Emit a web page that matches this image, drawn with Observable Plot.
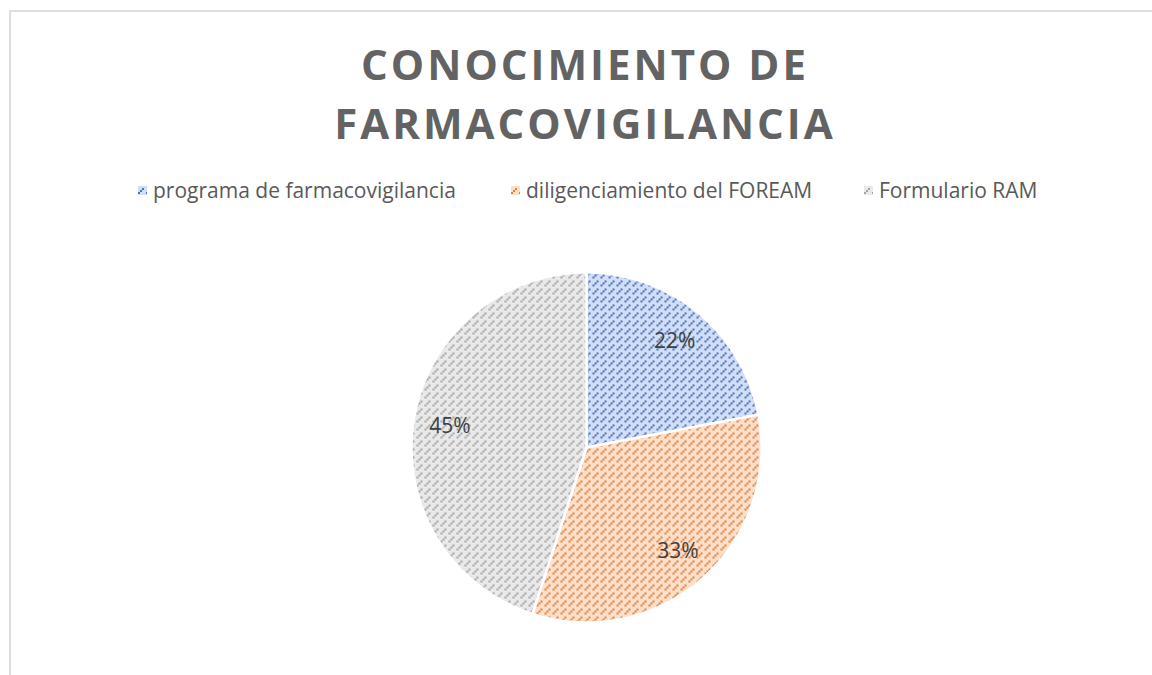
<!DOCTYPE html>
<html><head><meta charset="utf-8">
<script src="https://cdn.jsdelivr.net/npm/d3@7"></script>
<script src="https://cdn.jsdelivr.net/npm/@observablehq/plot@0.6"></script>
<style>
body{margin:0;background:#fff;overflow:hidden}
#wrap{position:relative;width:1152px;height:675px;overflow:hidden;font-family:"Open Sans",sans-serif}
#frame{position:absolute;left:9px;top:10px;width:1300px;height:800px;border:2px solid #dedede}
#title{position:absolute;left:0;width:1164px;top:34px;text-align:center;font-weight:700;font-size:42px;line-height:59px;letter-spacing:3px;padding-left:3px;color:#636363}
.leg{position:absolute;top:175px;height:30px;font-size:21px;color:#595959;display:flex;align-items:center;white-space:nowrap}
.leg svg{margin-right:6px}
#chart{position:absolute;left:0;top:230px}
</style></head>
<body><div id="wrap"><div id="frame"></div>
<div id="title">CONOCIMIENTO DE<br>FARMACOVIGILANCIA</div>
<div id="legend"></div>
<div id="chart"></div></div>
<script>
const categories = ["programa de farmacovigilancia", "diligenciamiento del FOREAM", "Formulario RAM"];
const values = [22, 33, 45];
const labels = ["22%", "33%", "45%"];
const fgColors = ["#4472C4", "#ED7D31", "#A5A5A5"];
const bgColors = ["#d3ddf3", "#fbe0cd", "#e9e9e9"];
const legendLeft = [138, 511, 864];

function patternDef(id, i) {
  return `<pattern id="${id}" width="8" height="8" patternUnits="userSpaceOnUse">
    <rect width="8" height="8" fill="${bgColors[i]}"/>
    <rect x="0" y="6" width="2" height="2" fill="${fgColors[i]}"/>
    <rect x="2" y="4" width="2" height="2" fill="${fgColors[i]}"/>
    <rect x="4" y="2" width="2" height="2" fill="${fgColors[i]}"/>
  </pattern>`;
}

// legend
const legend = document.getElementById("legend");
categories.forEach((c, i) => {
  const d = document.createElement("div");
  d.className = "leg";
  d.style.left = legendLeft[i] + "px";
  d.innerHTML = `<svg width="9" height="9"><defs>${patternDef("lp" + i, i)}</defs><rect width="9" height="9" fill="url(#lp${i})"/></svg>${c}`;
  legend.appendChild(d);
});

// pie geometry
const arcs = d3.pie().sort(null)(values);
const slices = arcs.map((a, i) => {
  const pts = [{x: 0, y: 0}];
  const n = Math.max(2, Math.ceil((a.endAngle - a.startAngle) / 0.01));
  for (let k = 0; k <= n; k++) {
    const t = a.startAngle + (a.endAngle - a.startAngle) * k / n;
    pts.push({x: Math.sin(t), y: Math.cos(t)});
  }
  return pts;
});
const labelData = arcs.map((a, i) => {
  const m = (a.startAngle + a.endAngle) / 2;
  return {x: 0.79 * Math.sin(m), y: 0.79 * Math.cos(m), text: labels[i]};
});

const chart = Plot.plot({
  width: 1152, height: 420,
  marginLeft: 411, marginRight: 391, marginTop: 42, marginBottom: 28,
  x: {domain: [-1, 1], axis: null},
  y: {domain: [-1, 1], axis: null},
  marks: [
    ...slices.map((pts, i) => Plot.line(pts, {x: "x", y: "y", curve: "linear-closed", fill: `url(#pp${i})`, stroke: "white", strokeWidth: 2.5})),
    Plot.text(labelData, {x: "x", y: "y", text: "text", fontSize: 21, fill: "#404040", fontFamily: "Open Sans"})
  ]
});
chart.insertAdjacentHTML("afterbegin", `<defs>${categories.map((c, i) => patternDef("pp" + i, i)).join("")}</defs>`);
document.getElementById("chart").appendChild(chart);
</script></body></html>
